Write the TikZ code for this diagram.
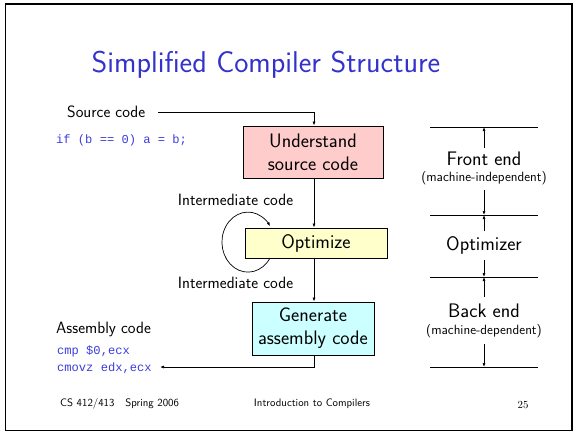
\documentclass[tikz,border=0pt]{standalone}
\usepackage{fontspec}
\setmonofont{Liberation Mono}
\usetikzlibrary{arrows.meta}
\definecolor{titleblue}{RGB}{51,51,204}
\definecolor{codeblue}{RGB}{60,60,220}
\definecolor{boxpink}{RGB}{255,204,204}
\definecolor{boxyellow}{RGB}{255,255,204}
\definecolor{boxcyan}{RGB}{204,255,255}
\begin{document}
\begin{tikzpicture}[x=1pt,y=-1pt,font=\sffamily,
  arr/.style={-{Latex[length=4pt,width=3pt]},line width=0.7pt},
  stagebox/.style={draw,line width=0.8pt,inner sep=0pt,align=center,font=\sffamily\fontsize{19.6}{23}\selectfont},
  lbl/.style={inner sep=0pt,font=\sffamily\fontsize{16.4}{19}\selectfont},
  code/.style={inner sep=0pt,anchor=west,text=codeblue,font=\ttfamily\fontsize{12.1}{14}\selectfont},
  big/.style={inner sep=0pt,font=\sffamily\fontsize{19.6}{23}\selectfont},
  small/.style={inner sep=0pt,font=\sffamily\fontsize{13.4}{16}\selectfont},
  foot/.style={inner sep=0pt,font=\sffamily\fontsize{10.8}{13}\selectfont},
  sep/.style={line width=0.7pt}]
\useasboundingbox (0,0) rectangle (574,432);
\draw[line width=1.6pt] (5.5,4) rectangle (572,430.5);
\node[inner sep=0pt,text=titleblue,font=\sffamily\fontsize{30.1}{36}\selectfont] (title) at (266,65) {Simplified Compiler Structure};
% left labels
\node[lbl,anchor=west] (src) at (67,112) {Source code};
\node[code] (c1) at (56,140) {if (b == 0) a = b;};
\node[lbl,anchor=west] (asm) at (56,329) {Assembly code};
\node[code] (c2) at (57,351) {cmp \$0,ecx};
\node[code] (c3) at (57,368) {cmovz edx,ecx};
% boxes
\node[stagebox,fill=boxpink,minimum width=140pt,minimum height=52pt] (u) at (313,152) {Understand\\source code};
\node[stagebox,fill=boxyellow,minimum width=142pt,minimum height=30pt] (o) at (316,243) {Optimize};
\node[stagebox,fill=boxcyan,minimum width=122pt,minimum height=53pt] (g) at (313,328.5) {Generate\\assembly code};
\node[lbl] (i1) at (235.5,200) {Intermediate code};
\node[lbl] (i2) at (235.5,283) {Intermediate code};
% connectors
\coordinate (vx) at (314,0);
\coordinate (s0) at (158,112);
\coordinate (s1) at (314,112);
\draw[arr] (s0) -- (s1) -- (s1 |- u.north);
\draw[arr] (vx |- u.south) -- (vx |- o.north);
\draw[arr] (vx |- o.south) -- (vx |- g.north);
\coordinate (a0) at (160,367);
\coordinate (a1) at (314,367);
\draw[arr] (vx |- g.south) -- (a1) -- (a0);
% loop
\coordinate (lb) at (270,258);
\draw[arr] (lb) arc[start angle=32,end angle=328,x radius=26,y radius=30];
% right column
\foreach \n/\y in {l1/127,l2/215,l3/277,l4/367}{
  \coordinate (\n w) at (430,\y);
  \coordinate (\n e) at (538,\y);
  \coordinate (\n) at (484,\y);
  \draw[sep] (\n w) -- (\n e);
}
\node[big] (fe) at (484,159) {Front end};
\node[small] (mi) at (484,178) {(machine-independent)};
\node[big] (op) at (484,245) {Optimizer};
\node[big] (be) at (484,311) {Back end};
\node[small] (md) at (484,331) {(machine-dependent)};
\coordinate (p1) at (484,148);
\coordinate (p2) at (484,190);
\coordinate (p3) at (484,231);
\coordinate (p4) at (484,260);
\coordinate (p5) at (484,297);
\coordinate (p6) at (484,344);
\draw[arr] (p1) -- (l1);
\draw[arr] (p2) -- (l2);
\draw[arr] (p3) -- (l2);
\draw[arr] (p4) -- (l3);
\draw[arr] (p5) -- (l3);
\draw[arr] (p6) -- (l4);
% footer
\node[foot,anchor=west] (f1) at (60,404) {CS 412/413\quad Spring 2006};
\node[foot] (f2) at (312,404) {Introduction to Compilers};
\node[inner sep=0pt,font=\rmfamily\fontsize{10.8}{13}\selectfont] (f3) at (523,405) {25};
\end{tikzpicture}
\end{document}
